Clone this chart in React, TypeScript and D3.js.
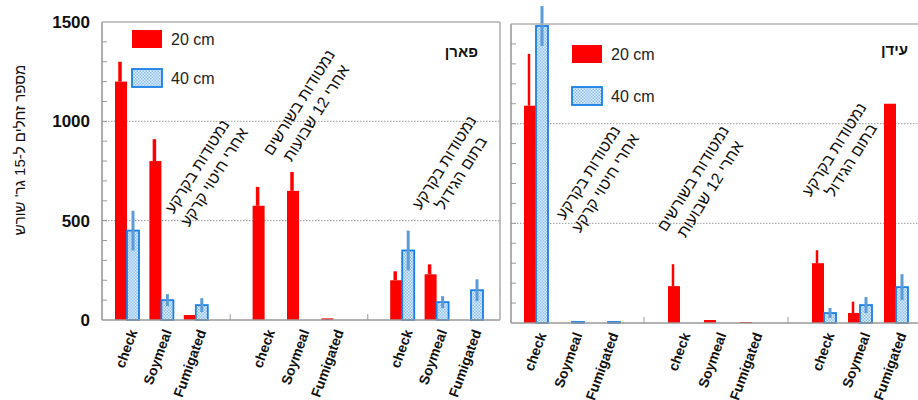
// Nematode counts at two depths, Paran vs Eden
import React, { useEffect, useRef } from 'react';
import * as d3 from 'd3';

const categories = ['check', 'Soymeal', 'Fumigated'];
const groupTitles = [
  ['נמטודות בקרקע', 'אחרי חיטוי קרקע'],
  ['נמטודות בשורשים', 'אחרי 12 שבועות'],
  ['נמטודות בקרקע', 'בתום הגידול'],
];
const seriesNames = ['20 cm', '40 cm'];
const yTicks = [0, 500, 1000, 1500];
const gridValues = [500, 1000];
const minorTicks = d3.range(100, 1500, 100);
const yTitle = "מספר זחלים ל-15 גר' שורש";

// פארן (3 groups x check / Soymeal / Fumigated)
const paran20 = [1200, 800, 25, 575, 650, 8, 200, 230, 0];
const paran20Err = [100, 110, 0, 95, 95, 0, 45, 50, 0];
const paran40 = [450, 100, 75, 0, 0, 0, 350, 90, 150];
const paran40Err = [100, 30, 35, 0, 0, 0, 100, 30, 55];

// עידן
const eden20 = [1090, 0, 0, 185, 15, 5, 300, 50, 1100];
const eden20Err = [260, 0, 0, 110, 0, 0, 65, 57, 0];
const eden40 = [1490, 5, 5, 0, 0, 0, 50, 90, 180];
const eden40Err = [100, 0, 0, 0, 0, 0, 25, 40, 65];

interface Panel {
  name: string;
  v20: number[];
  e20: number[];
  v40: number[];
  e40: number[];
  left: number;
  right: number;
  top: number;
  bottom: number;
  slotRange: [number, number];
  tickLabels: boolean;
  closed: boolean;
  legend: [number, number, number]; // x, y of 20cm box, gap to 40cm
  titleAt: [number, number];
  notes: [number, number][];
}

const panels: Panel[] = [
  {
    name: 'פארן', v20: paran20, e20: paran20Err, v40: paran40, e40: paran40Err,
    left: 102, right: 500, top: 22, bottom: 320, slotRange: [127, 471],
    tickLabels: true, closed: true, legend: [132, 30, 39], titleAt: [478, 52],
    notes: [[206, 172], [308, 108], [453, 168]],
  },
  {
    name: 'עידן', v20: eden20, e20: eden20Err, v40: eden40, e40: eden40Err,
    left: 511, right: 930, top: 24, bottom: 323, slotRange: [536, 896],
    tickLabels: false, closed: false, legend: [572, 45, 42], titleAt: [908, 50],
    notes: [[597, 178], [702, 184], [843, 155]],
  },
];

const RED = '#ff0000';
const BLUE_EDGE = '#1a7fe6';
const BLUE_ERR = '#5b9bd8';
const FRAME = '#9a9a9a';
const FONT = '"Liberation Sans", Arial, sans-serif';

const App: React.FC = () => {
  const ref = useRef<SVGSVGElement>(null);

  useEffect(() => {
    if (!ref.current) return;
    const svg = d3.select(ref.current);
    svg.selectAll('*').remove();

    const width = 918;
    const height = 400;
    svg.attr('width', width).attr('height', height);

    // dotted fill for 40 cm
    const pat = svg.append('defs').append('pattern')
      .attr('id', 'dots')
      .attr('width', 3).attr('height', 3)
      .attr('patternUnits', 'userSpaceOnUse');
    pat.append('rect').attr('width', 3).attr('height', 3).attr('fill', '#dcecfc');
    pat.append('rect').attr('width', 1.5).attr('height', 1.5).attr('fill', '#8ec0ef');
    pat.append('rect').attr('x', 1.5).attr('y', 1.5).attr('width', 1.5).attr('height', 1.5).attr('fill', '#8ec0ef');

    const barW = 12;
    const idx = d3.range(9);

    panels.forEach((p) => {
      const g = svg.append('g');
      const y = d3.scaleLinear().domain([0, 1500]).range([p.bottom, p.top]);
      const slots = d3.range(11);
      const x = d3.scalePoint<number>().domain(slots).range(p.slotRange);
      const cx = (i: number) => x(Math.floor(i / 3) * 4 + (i % 3)) as number;

      // grid
      g.selectAll('.grid')
        .data(gridValues)
        .join('line')
        .attr('x1', p.left).attr('x2', p.right)
        .attr('y1', (d) => y(d)).attr('y2', (d) => y(d))
        .attr('stroke', '#9a9a9a')
        .attr('stroke-width', 1)
        .attr('stroke-dasharray', '1.5,1.5');

      // 20 cm bars
      g.selectAll('.b20')
        .data(idx.filter((i) => p.v20[i] > 0))
        .join('rect')
        .attr('x', (i) => cx(i) - barW)
        .attr('y', (i) => y(p.v20[i]))
        .attr('width', barW)
        .attr('height', (i) => p.bottom - y(p.v20[i]))
        .attr('fill', RED);

      g.selectAll('.e20')
        .data(idx.filter((i) => p.e20[i] > 0))
        .join('line')
        .attr('x1', (i) => cx(i) - barW / 2 - 1)
        .attr('x2', (i) => cx(i) - barW / 2 - 1)
        .attr('y1', (i) => y(p.v20[i]))
        .attr('y2', (i) => y(p.v20[i] + p.e20[i]))
        .attr('stroke', RED)
        .attr('stroke-width', p.tickLabels ? 3.5 : 2.5);

      // 40 cm bars
      g.selectAll('.b40')
        .data(idx.filter((i) => p.v40[i] > 0))
        .join('rect')
        .attr('x', (i) => cx(i))
        .attr('y', (i) => y(p.v40[i]))
        .attr('width', barW)
        .attr('height', (i) => p.bottom - y(p.v40[i]))
        .attr('fill', 'url(#dots)')
        .attr('stroke', BLUE_EDGE)
        .attr('stroke-width', 1.8);

      g.selectAll('.e40')
        .data(idx.filter((i) => p.e40[i] > 0))
        .join('line')
        .attr('x1', (i) => cx(i) + barW / 2)
        .attr('x2', (i) => cx(i) + barW / 2)
        .attr('y1', (i) => y(p.v40[i] - p.e40[i]))
        .attr('y2', (i) => y(p.v40[i] + p.e40[i]))
        .attr('stroke', BLUE_ERR)
        .attr('stroke-width', 3);

      // frame
      g.append('line')
        .attr('x1', p.left).attr('x2', p.left)
        .attr('y1', p.top).attr('y2', p.bottom)
        .attr('stroke', FRAME).attr('stroke-width', 1.6);
      g.append('line')
        .attr('x1', p.left).attr('x2', p.right)
        .attr('y1', p.bottom).attr('y2', p.bottom)
        .attr('stroke', FRAME).attr('stroke-width', 1.6);
      g.append('line')
        .attr('x1', p.left).attr('x2', p.right)
        .attr('y1', p.top).attr('y2', p.top)
        .attr('stroke', '#b0b0b0').attr('stroke-width', 1.6);
      if (p.closed) {
        g.append('line')
          .attr('x1', p.right).attr('x2', p.right)
          .attr('y1', p.top).attr('y2', p.bottom)
          .attr('stroke', '#b0b0b0').attr('stroke-width', 1.6);
      }

      // minor ticks
      g.selectAll('.mt')
        .data(minorTicks)
        .join('line')
        .attr('x1', p.left).attr('x2', p.left + 5)
        .attr('y1', (d) => y(d)).attr('y2', (d) => y(d))
        .attr('stroke', FRAME).attr('stroke-width', 1);

      // group separators
      g.selectAll('.sep')
        .data([3, 7])
        .join('line')
        .attr('x1', (d) => x(d) as number).attr('x2', (d) => x(d) as number)
        .attr('y1', p.bottom).attr('y2', p.bottom - 6)
        .attr('stroke', FRAME).attr('stroke-width', 1);

      if (p.tickLabels) {
        g.selectAll('.tl')
          .data(yTicks)
          .join('text')
          .attr('x', p.left - 12)
          .attr('y', (d) => y(d))
          .attr('dy', '0.36em')
          .attr('text-anchor', 'end')
          .style('font-family', FONT)
          .style('font-size', '17px')
          .style('font-weight', 'bold')
          .style('fill', '#111')
          .text((d) => d);
      }

      // category labels
      g.selectAll('.cl')
        .data(idx)
        .join('text')
        .attr('transform', (i) => `translate(${cx(i) + 6},${p.bottom + 10}) rotate(-70)`)
        .attr('text-anchor', 'end')
        .attr('dy', '0.35em')
        .style('font-family', FONT)
        .style('font-size', '14px')
        .style('font-weight', 'bold')
        .style('fill', '#111')
        .text((i) => categories[i % 3]);

      // group annotations
      p.notes.forEach(([nx, ny], gi) => {
        const t = g.append('text')
          .attr('transform', `translate(${nx},${ny}) rotate(-58)`)
          .attr('text-anchor', 'middle')
          .attr('direction', 'rtl')
          .style('font-family', FONT)
          .style('font-size', '16px')
          .style('fill', '#111');
        groupTitles[gi].forEach((line, li) => {
          t.append('tspan')
            .attr('x', 0)
            .attr('y', li === 0 ? -5 : 15)
            .text(line);
        });
      });

      // panel title
      g.append('text')
        .attr('x', p.titleAt[0])
        .attr('y', p.titleAt[1])
        .attr('dy', '0.35em')
        .attr('text-anchor', 'end')
        .attr('direction', 'ltr')
        .style('font-family', FONT)
        .style('font-size', '15px')
        .style('font-weight', 'bold')
        .style('fill', '#111')
        .text(p.name);

      // legend
      const [lx, ly, gap] = p.legend;
      seriesNames.forEach((s, si) => {
        g.append('rect')
          .attr('x', lx)
          .attr('y', ly + si * gap)
          .attr('width', 30)
          .attr('height', 18)
          .attr('fill', si === 0 ? RED : 'url(#dots)')
          .attr('stroke', si === 0 ? 'none' : BLUE_EDGE)
          .attr('stroke-width', 1.8);
        g.append('text')
          .attr('x', lx + 39)
          .attr('y', ly + si * gap + 9)
          .attr('dy', '0.36em')
          .style('font-family', FONT)
          .style('font-size', '16px')
          .style('fill', '#222')
          .text(s);
      });
    });

    // y axis title
    svg.append('text')
      .attr('transform', 'translate(20,150) rotate(-90)')
      .attr('text-anchor', 'middle')
      .attr('direction', 'rtl')
      .attr('dy', '0.35em')
      .style('font-family', FONT)
      .style('font-size', '15px')
      .style('fill', '#111')
      .text(yTitle);
  }, []);

  return (
    <div style={{ position: 'absolute', left: 0, top: 0, background: '#fff' }}>
      <svg ref={ref} style={{ display: 'block' }}></svg>
    </div>
  );
};

export default App;
